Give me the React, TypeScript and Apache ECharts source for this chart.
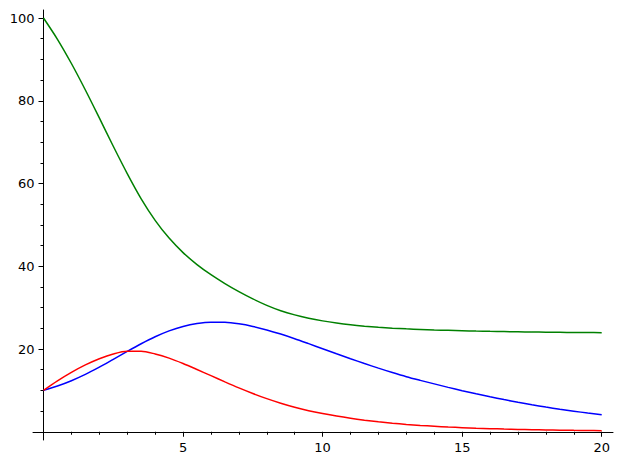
import React, { useEffect, useRef } from "react";
import * as echarts from "echarts";

const T = [0, 0.5, 1, 1.5, 2, 2.5, 3, 3.5, 4, 4.5, 5, 5.5, 6, 6.5, 7, 7.5, 8, 8.5, 9, 9.5, 10, 10.5, 11, 11.5, 12, 12.5, 13, 13.5, 14, 14.5, 15, 15.5, 16, 16.5, 17, 17.5, 18, 18.5, 19, 19.5, 20];

const greenValues = [100, 94.85, 89.0, 82.6, 75.85, 69.0, 62.4, 56.3, 51.1, 46.8, 43.3, 40.4, 37.95, 35.8, 33.85, 32.1, 30.55, 29.25, 28.25, 27.45, 26.8, 26.27, 25.84, 25.51, 25.25, 25.04, 24.87, 24.73, 24.61, 24.51, 24.42, 24.34, 24.27, 24.21, 24.15, 24.1, 24.06, 24.03, 24.0, 23.97, 23.95];

const blueValues = [10, 11.05, 12.33, 13.85, 15.6, 17.5, 19.42, 21.27, 22.95, 24.37, 25.45, 26.15, 26.48, 26.45, 26.09, 25.46, 24.61, 23.61, 22.49, 21.29, 20.07, 18.85, 17.65, 16.48, 15.37, 14.31, 13.31, 12.42, 11.57, 10.73, 9.93, 9.17, 8.45, 7.77, 7.13, 6.53, 5.97, 5.45, 4.97, 4.52, 4.1];

const redValues = [10, 12.3, 14.35, 16.15, 17.65, 18.8, 19.45, 19.45, 18.8, 17.8, 16.5, 15.05, 13.55, 12.05, 10.6, 9.25, 8.0, 6.9, 5.93, 5.1, 4.4, 3.78, 3.25, 2.8, 2.41, 2.07, 1.78, 1.53, 1.32, 1.14, 0.99, 0.86, 0.75, 0.65, 0.57, 0.5, 0.44, 0.39, 0.34, 0.3, 0.26];

const xTickInterval = 5;
const yTickInterval = 20;

const FONT = "DejaVu Sans";

function pairs(vals: number[]) {
  return T.map((t, i) => [t, vals[i]]);
}

export default function App() {
  const ref = useRef<HTMLDivElement>(null);
  useEffect(() => {
    if (!ref.current) return;
    const chart = echarts.init(ref.current, null, { renderer: "svg" });
    const pxPerX = (628 - 43.5 - 26.3) / 20;
    const pxPerY = (468 - 18 - 36.25) / 100;
    const lineSeries = (color: string) => ({
      type: "line" as const,
      xAxisIndex: 0,
      yAxisIndex: 0,
      showSymbol: false,
      symbol: "none",
      smooth: 0.3,
      lineStyle: { color, width: 1.5 },
    });
    const labelStyle = {
      show: true,
      margin: 9,
      color: "#000",
      fontFamily: FONT,
      fontSize: 13,
      formatter: (v: number) => (v === 0 ? "" : String(v)),
    };
    chart.setOption({
      animation: false,
      backgroundColor: "#ffffff",
      grid: [
        { left: 43.5, right: 26.3, top: 18, bottom: 36.25 },
        { left: 33, right: 15, top: 10, bottom: 28 },
      ],
      xAxis: [
        {
          type: "value",
          gridIndex: 0,
          min: 0,
          max: 20,
          interval: xTickInterval,
          axisLine: { show: false, onZero: false },
          axisTick: { show: true, length: 5, lineStyle: { color: "#000", width: 1 } },
          minorTick: { show: true, splitNumber: 5, length: 3, lineStyle: { color: "#000", width: 1 } },
          splitLine: { show: false },
          axisLabel: labelStyle,
        },
        {
          type: "value",
          gridIndex: 1,
          min: -10.5 / pxPerX,
          max: 20 + 11.3 / pxPerX,
          axisLine: { show: true, onZero: true, lineStyle: { color: "#000", width: 1 } },
          axisTick: { show: false },
          axisLabel: { show: false },
          splitLine: { show: false },
        },
      ],
      yAxis: [
        {
          type: "value",
          gridIndex: 0,
          min: 0,
          max: 100,
          interval: yTickInterval,
          axisLine: { show: false, onZero: false },
          axisTick: { show: true, length: 5, lineStyle: { color: "#000", width: 1 } },
          minorTick: { show: true, splitNumber: 4, length: 3, lineStyle: { color: "#000", width: 1 } },
          splitLine: { show: false },
          axisLabel: labelStyle,
        },
        {
          type: "value",
          gridIndex: 1,
          min: -8.25 / pxPerY,
          max: 100 + 8 / pxPerY,
          axisLine: { show: true, onZero: true, lineStyle: { color: "#000", width: 1 } },
          axisTick: { show: false },
          axisLabel: { show: false },
          splitLine: { show: false },
        },
      ],
      series: [
        { ...lineSeries("#008000"), name: "green", data: pairs(greenValues) },
        { ...lineSeries("#0000ff"), name: "blue", data: pairs(blueValues) },
        { ...lineSeries("#ff0000"), name: "red", data: pairs(redValues) },
      ],
    });
    return () => chart.dispose();
  }, []);
  return (
    <div
      ref={ref}
      style={{ position: "fixed", left: 0, top: 0, width: 628, height: 468, background: "#fff" }}
    />
  );
}
